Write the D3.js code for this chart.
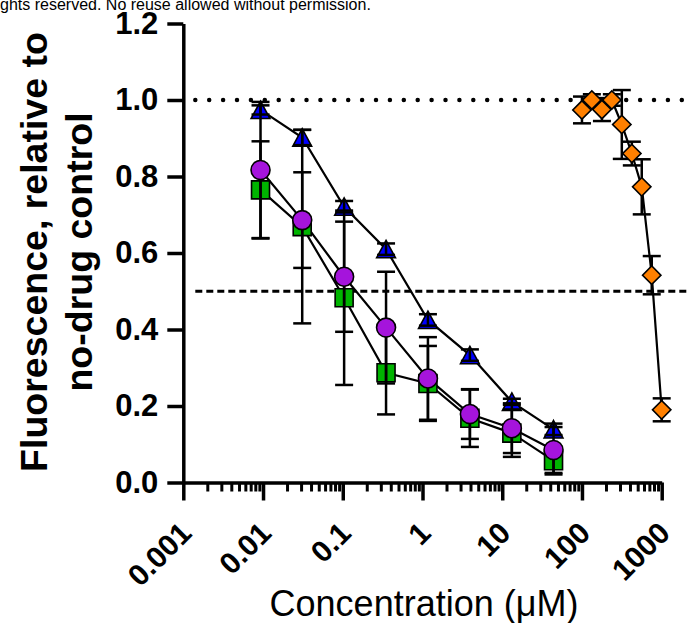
<!DOCTYPE html>
<html><head><meta charset="utf-8">
<script src="https://cdn.jsdelivr.net/npm/d3@7"></script>
<style>
html,body{margin:0;padding:0;background:#fff;}
svg{display:block;}
</style></head>
<body>
<svg id="chart" width="699" height="623"></svg>
<script>
// ---- data ----
const concentrations = [0.0093, 0.031, 0.104, 0.349, 1.17, 3.93, 13.2, 44.0];
const blueValues   = [0.974, 0.902, 0.721, 0.610, 0.425, 0.333, 0.211, 0.139];
const blueErrors   = [0.012, 0.020, 0.015, 0.015, 0.015, 0.015, 0.008, 0.015];
const purpleValues = [0.817, 0.686, 0.538, 0.405, 0.272, 0.179, 0.142, 0.085];
const purpleErrors = [0.178, 0.125, 0.144, 0.146, 0.108, 0.065, 0.065, 0.060];
const greenValues  = [0.765, 0.669, 0.483, 0.287, 0.259, 0.168, 0.129, 0.057];
const greenErrors  = [0.127, 0.253, 0.228, 0.109, 0.098, 0.075, 0.062, 0.036];
const orangeConcentrations = [100, 133, 178, 237, 316, 422, 562, 750, 1000];
const orangeValues = [0.974, 1.000, 0.975, 1.000, 0.936, 0.860, 0.773, 0.542, 0.190];
const orangeErrors = [0.035, 0.015, 0.030, 0.015, 0.090, 0.031, 0.072, 0.050, 0.030];
const xTickValues = [0.001, 0.01, 0.1, 1, 10, 100, 1000];
const xTickLabels = ["0.001", "0.01", "0.1", "1", "10", "100", "1000"];
const yTickValues = [0, 0.2, 0.4, 0.6, 0.8, 1.0, 1.2];
const yTickLabels = ["0.0", "0.2", "0.4", "0.6", "0.8", "1.0", "1.2"];
const referenceLevels = [1.0, 0.5];
const referenceStyles = ["dotted", "dashed"];
const xTitle = "Concentration (\u03BCM)";
const yTitleLines = ["Fluorescence, relative to", "no-drug control"];
const noticeText = "ghts reserved. No reuse allowed without permission.";

// ---- layout ----
const FONT = "'Liberation Sans', Arial, Helvetica, sans-serif";
const svg = d3.select("#chart");
const x = d3.scaleLog().domain([0.001, 1000]).range([183.3, 661.7]);
const y = d3.scaleLinear().domain([0, 1.2]).range([482.5, 23.5]);

// notice text
svg.append("text").attr("x", 0).attr("y", 10)
  .attr("font-family", FONT).attr("font-size", 16).attr("fill", "#000")
  .text(noticeText);

// reference lines
const refG = svg.append("g");
referenceLevels.forEach((lv, i) => {
  const l = refG.append("line")
    .attr("x1", x.range()[0] + 12).attr("x2", x.range()[1] + 26)
    .attr("y1", y(lv)).attr("y2", y(lv))
    .attr("stroke", "#000");
  if (referenceStyles[i] === "dotted") {
    l.attr("stroke-width", 4.5).attr("stroke-linecap", "round").attr("stroke-dasharray", "0 13.9");
  } else {
    l.attr("stroke-width", 3).attr("stroke-dasharray", "7 4");
  }
});

// axes
const yAxis = svg.append("g")
  .attr("transform", `translate(${x.range()[0]},0)`)
  .call(d3.axisLeft(y).tickValues(yTickValues)
    .tickFormat((d, i) => yTickLabels[i])
    .tickSize(16).tickSizeOuter(0).tickPadding(9));
yAxis.select(".domain").attr("stroke-width", 3.5).attr("stroke", "#000");
yAxis.selectAll(".tick line").attr("stroke-width", 3.5).attr("stroke", "#000");
yAxis.selectAll(".tick text").attr("font-family", FONT).attr("font-weight", "bold")
  .attr("font-size", 31).attr("fill", "#000");

const xAxis = svg.append("g")
  .attr("transform", `translate(0,${y.range()[0]})`)
  .call(d3.axisBottom(x).tickValues(xTickValues)
    .tickFormat((d, i) => xTickLabels[i])
    .tickSize(18).tickSizeOuter(0));
xAxis.select(".domain").attr("stroke-width", 3.5).attr("stroke", "#000");
xAxis.selectAll(".tick line").attr("stroke-width", 3.5).attr("stroke", "#000");
xAxis.selectAll(".tick text")
  .attr("y", null).attr("dy", null)
  .attr("transform", "translate(9.5,52.5) rotate(-45)")
  .attr("text-anchor", "end")
  .attr("font-family", FONT).attr("font-weight", "bold")
  .attr("font-size", 30).attr("fill", "#000");

// minor ticks
const minorTicks = x.ticks().filter(t => xTickValues.indexOf(t) < 0);
const minorAxis = svg.append("g")
  .attr("transform", `translate(0,${y.range()[0]})`)
  .call(d3.axisBottom(x).tickValues(minorTicks).tickFormat("").tickSize(9).tickSizeOuter(0));
minorAxis.select(".domain").remove();
minorAxis.selectAll(".tick line").attr("stroke-width", 3).attr("stroke", "#000");

// axis titles
svg.append("text").attr("x", 424).attr("y", 616)
  .attr("text-anchor", "middle").attr("font-family", FONT)
  .attr("font-size", 36).attr("fill", "#000").text(xTitle);
const yTitleX = [47, 92];
yTitleLines.forEach((t, i) => {
  svg.append("text")
    .attr("transform", `translate(${yTitleX[i]},252) rotate(-90)`)
    .attr("text-anchor", "middle").attr("font-family", FONT)
    .attr("font-weight", "bold").attr("font-size", 37.5).attr("fill", "#000")
    .text(t);
});

// ---- series ----
const toPts = (xs, vs, es) => xs.map((c, i) => ({c, v: vs[i], e: es[i]}));
const green = toPts(concentrations, greenValues, greenErrors);
const blue = toPts(concentrations, blueValues, blueErrors);
const purple = toPts(concentrations, purpleValues, purpleErrors);
const orange = toPts(orangeConcentrations, orangeValues, orangeErrors);

const line = d3.line().x(d => x(d.c)).y(d => y(d.v));
const plot = svg.append("g");
[green, purple, blue, orange].forEach(s => {
  plot.append("path").attr("d", line(s)).attr("fill", "none")
    .attr("stroke", "#000").attr("stroke-width", 2.2);
});

function errorBars(s) {
  const g = plot.append("g").attr("stroke", "#000").attr("stroke-width", 2.5);
  s.forEach(d => {
    const cx = x(d.c), y1 = y(d.v - d.e), y2 = y(d.v + d.e);
    g.append("line").attr("x1", cx).attr("x2", cx).attr("y1", y1).attr("y2", y2);
    g.append("line").attr("x1", cx - 9).attr("x2", cx + 9).attr("y1", y1).attr("y2", y1);
    g.append("line").attr("x1", cx - 9).attr("x2", cx + 9).attr("y1", y2).attr("y2", y2);
  });
}
function markers(s, pathD, fill, rot) {
  plot.append("g").selectAll("path").data(s).join("path")
    .attr("d", pathD)
    .attr("transform", d => `translate(${x(d.c)},${y(d.v)})` + (rot ? ` rotate(${rot})` : ""))
    .attr("fill", fill).attr("stroke", "#000").attr("stroke-width", 1.6);
}
const squarePath = d3.symbol(d3.symbolSquare, 18 * 18)();
const circlePath = d3.symbol(d3.symbolCircle, Math.PI * 9.5 * 9.5)();
const diamondPath = d3.symbol(d3.symbolSquare, 13 * 13)();
const trianglePath = "M0,-8.8L9.4,8.6L-9.4,8.6Z";

errorBars(orange);
markers(orange, diamondPath, "#FF8000", 45);
markers(green, squarePath, "#00B400", 0);
markers(blue, trianglePath, "#0000FF", 0);
errorBars(green);
errorBars(blue);
errorBars(purple);
markers(purple, circlePath, "#A514DC", 0);
</script>
</body></html>
